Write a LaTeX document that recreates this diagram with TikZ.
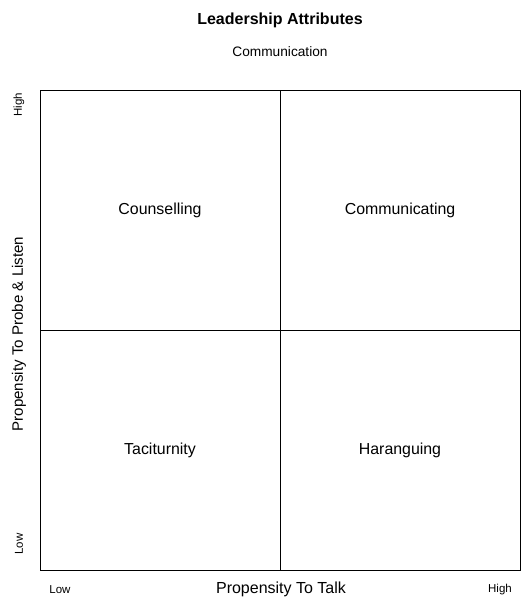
\documentclass[tikz,border=0pt]{standalone}
\usepackage{fontspec}
\setmainfont{Liberation Sans}
\begin{document}
\begin{tikzpicture}[x=1pt,y=-1pt,
  cell/.style={draw=black,line width=0.9pt,minimum width=240pt,minimum height=240pt,inner sep=0pt,font=\fontsize{15.9}{18}\selectfont,anchor=center},
  small/.style={font=\fontsize{11.5}{13}\selectfont,inner sep=0pt},
  axis/.style={font=\fontsize{16}{18}\selectfont,inner sep=0pt}]
\useasboundingbox (0,0) rectangle (525,610);
\node[font=\bfseries\fontsize{16}{18}\selectfont] (title) at (280,20) {Leadership Attributes};
\node[font=\fontsize{13.7}{16}\selectfont] (sub) at (280,52) {Communication};
\node[cell] (tl) at (160,210) {Counselling};
\node[cell] (tr) at (400,210) {Communicating};
\node[cell] (bl) at (160,450) {Taciturnity};
\node[cell] (br) at (400,450) {Haranguing};
\node[axis] (xlab) at (281,589) {Propensity To Talk};
\node[small] (xlow) at (60,590) {Low};
\node[small] (xhigh) at (500,590) {High};
\node[axis,font=\fontsize{15.1}{18}\selectfont,rotate=90] (ylab) at (19,334) {Propensity To Probe \& Listen};
\node[small,rotate=90] (yhigh) at (19,105) {High};
\node[small,rotate=90] (ylow) at (19,544) {Low};
\end{tikzpicture}
\end{document}
